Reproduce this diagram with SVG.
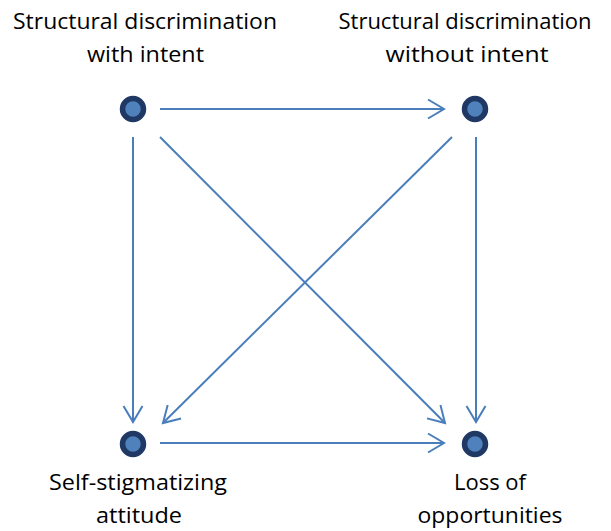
<svg xmlns="http://www.w3.org/2000/svg" width="611" height="531" viewBox="0 0 611 531">
<defs>
<style>
.lbl{font-family:"Open Sans","Liberation Sans",sans-serif;font-size:21.5px;fill:#000;text-anchor:middle}
.node{fill:#4f81bd;stroke:#1f3864;stroke-width:5.5}
.edge{stroke:#4a7ebb;stroke-width:2;fill:none;marker-end:url(#arr)}
</style>
<marker id="arr" markerUnits="userSpaceOnUse" markerWidth="24" markerHeight="24" viewBox="-20 -12 24 24" refX="0" refY="0" orient="auto">
<path d="M-16,-9.5 L0,0 L-16,9.5" fill="none" stroke="#4a7ebb" stroke-width="2"/>
</marker>
</defs>
<rect width="611" height="531" fill="#fff"/>
<g id="connectors">
<line class="edge" x1="160" y1="109" x2="444" y2="109"/>
<line class="edge" x1="133" y1="137" x2="133" y2="422"/>
<line class="edge" x1="160" y1="137" x2="445" y2="423"/>
<line class="edge" x1="452" y1="137" x2="163" y2="423"/>
<line class="edge" x1="476" y1="137" x2="476" y2="422"/>
<line class="edge" x1="160" y1="443" x2="444" y2="443"/>
</g>
<g id="n1">
<circle class="node" cx="133" cy="109" r="10.5"/>
<text class="lbl" x="145" y="29" textLength="264" lengthAdjust="spacingAndGlyphs">Structural discrimination</text>
<text class="lbl" x="145.5" y="62" textLength="117" lengthAdjust="spacingAndGlyphs">with intent</text>
</g>
<g id="n2">
<circle class="node" cx="475" cy="109" r="10.5"/>
<text class="lbl" x="465" y="29" textLength="253" lengthAdjust="spacingAndGlyphs">Structural discrimination</text>
<text class="lbl" x="467" y="62" textLength="163" lengthAdjust="spacingAndGlyphs">without intent</text>
</g>
<g id="n3">
<circle class="node" cx="133" cy="444" r="10.5"/>
<text class="lbl" x="138" y="490" textLength="178" lengthAdjust="spacingAndGlyphs">Self-stigmatizing</text>
<text class="lbl" x="139" y="523" textLength="86" lengthAdjust="spacingAndGlyphs">attitude</text>
</g>
<g id="n4">
<circle class="node" cx="475" cy="444" r="10.5"/>
<text class="lbl" x="490" y="490" textLength="72" lengthAdjust="spacingAndGlyphs">Loss of</text>
<text class="lbl" x="490" y="523" textLength="145" lengthAdjust="spacingAndGlyphs">opportunities</text>
</g>
</svg>
